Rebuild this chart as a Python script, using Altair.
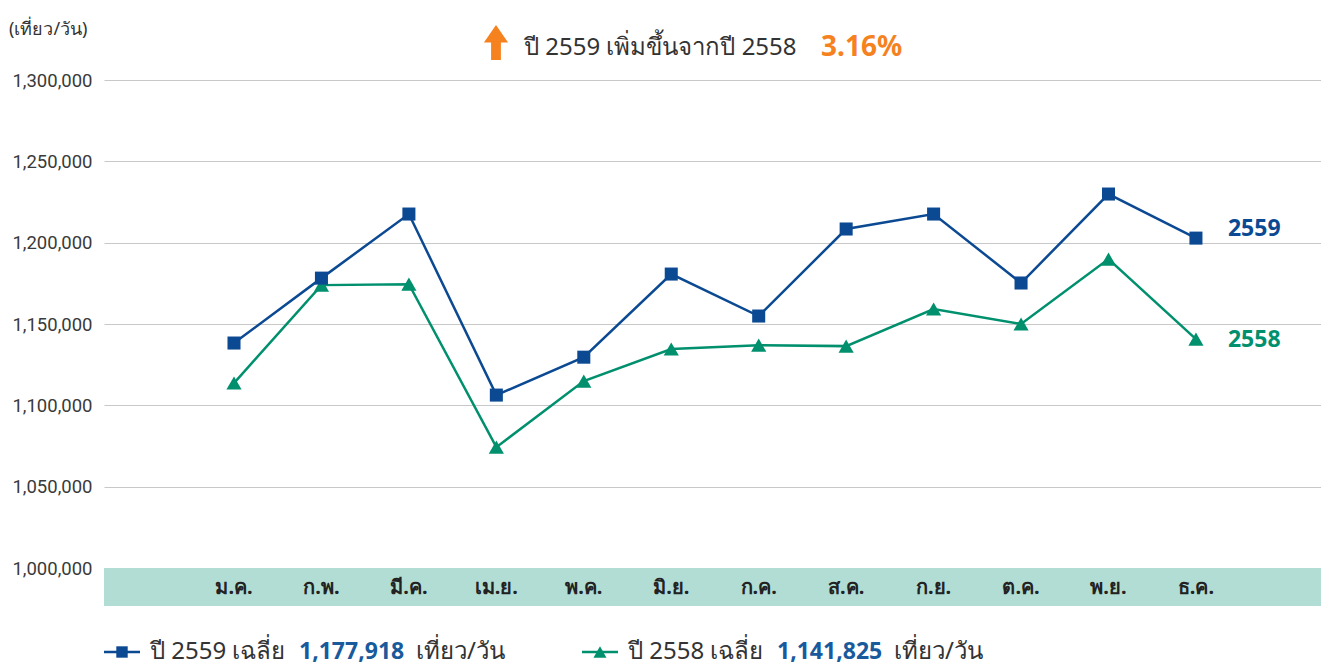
import altair as alt
import pandas as pd

months = ["ม.ค.", "ก.พ.", "มี.ค.", "เม.ย.", "พ.ค.", "มิ.ย.", "ก.ค.", "ส.ค.", "ก.ย.", "ต.ค.", "พ.ย.", "ธ.ค."]
v2559 = [1138300, 1178200, 1217600, 1106300, 1129600, 1180700, 1154900, 1208400, 1217600, 1175200, 1229900, 1202800]
v2558 = [1113700, 1173900, 1174500, 1074300, 1114900, 1134600, 1137000, 1136400, 1159200, 1150000, 1189900, 1140700]
y_ticks = [1000000, 1050000, 1100000, 1150000, 1200000, 1250000, 1300000]

BLUE = "#0b4a93"
GREEN = "#00906e"
ORANGE = "#f5821f"
BAND = "#b2ddd5"
TXT = "#333333"
FONT = "Noto Sans"

W, H = 1217, 488
XDOM = [-1.4866, 12.43]

df = pd.DataFrame({
    "i": list(range(12)) * 2,
    "month": months * 2,
    "value": v2559 + v2558,
    "series": ["2559"] * 12 + ["2558"] * 12,
})
d59 = df[df.series == "2559"]
d58 = df[df.series == "2558"]
mdf = pd.DataFrame({"i": list(range(12)), "month": months})
one = mdf.head(1)

xs = alt.X("i:Q", scale=alt.Scale(domain=XDOM, nice=False, zero=False), axis=None)
ys = alt.Y("value:Q", scale=alt.Scale(domain=[1000000, 1300000], nice=False, zero=False),
           axis=alt.Axis(values=y_ticks, format=",d", title=None, domain=False, ticks=False,
                         labelPadding=12, labelFontSize=18.5, labelColor="#3a3a3a", labelFont="Roboto",
                         gridColor="#c8c8c8", gridWidth=1.2))

band = alt.Chart(one).mark_rect(color=BAND).encode(
    x=alt.value(0), x2=alt.value(W), y=alt.value(H), y2=alt.value(H + 38))

grid = alt.Chart(df).mark_point(opacity=0).encode(x=xs, y=ys)

line59 = alt.Chart(d59).mark_line(color=BLUE, strokeWidth=2.5).encode(x=xs, y=ys)
pt59 = alt.Chart(d59).mark_point(shape="square", filled=True, size=170, color=BLUE, opacity=1).encode(x=xs, y=ys)
line58 = alt.Chart(d58).mark_line(color=GREEN, strokeWidth=2.5).encode(x=xs, y=ys)
pt58 = alt.Chart(d58).mark_point(shape="triangle-up", filled=True, size=230, color=GREEN, opacity=1).encode(x=xs, y=ys)

mlabels = alt.Chart(mdf).mark_text(fontSize=20, fontWeight="bold", color="#222222", font=FONT).encode(
    x=xs, y=alt.value(H + 20), text="month:N")

lab59 = alt.Chart(d59.tail(1)).mark_text(align="left", dx=32, dy=-9, fontSize=23, fontWeight="bold",
                                         color=BLUE, font=FONT, text="2559").encode(x=xs, y=ys)
lab58 = alt.Chart(d58.tail(1)).mark_text(align="left", dx=32, dy=1, fontSize=23, fontWeight="bold",
                                         color=GREEN, font=FONT, text="2558").encode(x=xs, y=ys)

unit = alt.Chart(one).mark_text(align="left", fontSize=18, color=TXT, font=FONT,
                                text="(เที่ยว/วัน)").encode(x=alt.value(-95), y=alt.value(-50))

arrow = alt.Chart(one).mark_point(
    shape="M0,-1 L0.69,0 L0.28,0 L0.28,1 L-0.28,1 L-0.28,0 L-0.69,0 Z",
    filled=True, color=ORANGE, opacity=1, size=1225).encode(x=alt.value(392), y=alt.value(-37.5))
title1 = alt.Chart(one).mark_text(align="left", fontSize=24, color=TXT, font=FONT,
                                  text="ปี 2559 เพิ่มขึ้นจากปี 2558").encode(x=alt.value(420), y=alt.value(-32))
title2 = alt.Chart(one).mark_text(align="left", fontSize=28, fontWeight="bold", color=ORANGE, font=FONT,
                                  text="3.16%").encode(x=alt.value(717), y=alt.value(-32))

LY = 572


def legend_item(x0, color, shape, size, label, avg):
    ln = alt.Chart(one).mark_rule(color=color, strokeWidth=2.5).encode(
        x=alt.value(x0), x2=alt.value(x0 + 36), y=alt.value(LY))
    pt = alt.Chart(one).mark_point(shape=shape, filled=True, size=size, color=color, opacity=1).encode(
        x=alt.value(x0 + 18), y=alt.value(LY))
    t1 = alt.Chart(one).mark_text(align="left", fontSize=24, color=TXT, font=FONT,
                                  text=label).encode(x=alt.value(x0 + 46), y=alt.value(LY))
    t2 = alt.Chart(one).mark_text(align="left", fontSize=23, fontWeight="bold", color="#185a9c", font=FONT,
                                  text=avg).encode(x=alt.value(x0 + 195), y=alt.value(LY))
    t3 = alt.Chart(one).mark_text(align="left", fontSize=24, color=TXT, font=FONT,
                                  text="เที่ยว/วัน").encode(x=alt.value(x0 + 312), y=alt.value(LY))
    return [ln, pt, t1, t2, t3]


leg = legend_item(0, BLUE, "square", 130, "ปี 2559 เฉลี่ย", "1,177,918") + \
      legend_item(478, GREEN, "triangle-up", 170, "ปี 2558 เฉลี่ย", "1,141,825")

chart = alt.layer(
    grid, band, mlabels, line58, line59, pt58, pt59, lab59, lab58, unit, arrow, title1, title2, *leg
).properties(
    width=W, height=H,
    background="white",
    autosize=alt.AutoSizeParams(type="none"),
    padding={"left": 104, "top": 80, "right": 0, "bottom": 98},
).configure_view(stroke=None)

chart.save("out.html", embed_options={"renderer": "svg", "actions": False})
